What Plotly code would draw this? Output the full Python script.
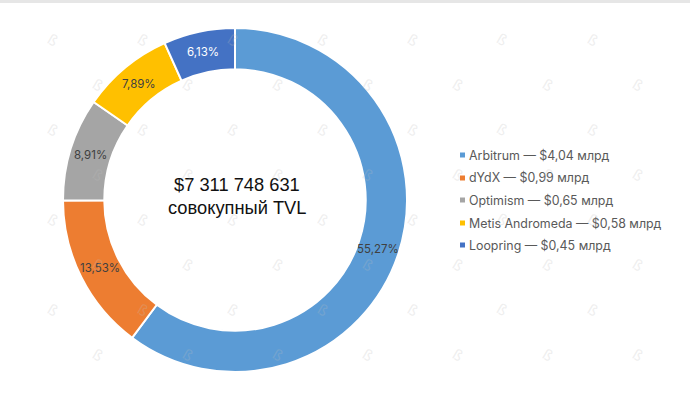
import math

import plotly.graph_objects as go

W, H = 690, 404

names = ["Arbitrum", "dYdX", "Optimism", "Metis Andromeda", "Loopring"]
tvl_bln = [4.04, 0.99, 0.65, 0.58, 0.45]
tvl_labels = ["$4,04 млрд", "$0,99 млрд", "$0,65 млрд", "$0,58 млрд", "$0,45 млрд"]
pct_labels = ["55,27%", "13,53%", "8,91%", "7,89%", "6,13%"]
colors = ["#5B9BD5", "#ED7D31", "#A5A5A5", "#FFC000", "#4472C4"]
label_colors = ["#404040", "#404040", "#404040", "#404040", "#FFFFFF"]
legend_y = [155, 178, 200, 223, 245]


def px(x):
    return x / W


def py(y):
    return 1 - y / H


fig = go.Figure(go.Pie(
    labels=names,
    values=tvl_bln,
    textinfo="none",
    hole=0.76,
    sort=False,
    direction="clockwise",
    rotation=0,
    marker=dict(colors=colors, line=dict(color="white", width=2)),
    domain=dict(x=[px(63), px(407)], y=[py(372), py(28)]),
    showlegend=False,
))

# grey strip at the top of the page
fig.add_shape(type="rect", xref="paper", yref="paper", x0=0, x1=1, y0=py(3), y1=1,
              fillcolor="#E6E6E6", line_width=0, layer="below")

# percent labels sit mid-slice, except Arbitrum which is pulled up to the right side
total = sum(tvl_bln)
start = 0
for i, (val, label, color) in enumerate(zip(tvl_bln, pct_labels, label_colors)):
    angle = (start + val / 2) / total * 2 * math.pi
    start += val
    if i == 0:
        angle = math.radians(109)
    fig.add_annotation(text=label, xref="paper", yref="paper",
                       x=px(235 + 151 * math.sin(angle)), y=py(200 - 151 * math.cos(angle)),
                       xanchor="center", yanchor="middle",
                       showarrow=False, font=dict(family="Inter", size=11.5, color=color))

# legend drawn by hand to get the row spacing of the picture
for name, tvl, color, y in zip(names, tvl_labels, colors, legend_y):
    fig.add_shape(type="rect", xref="paper", yref="paper",
                  x0=px(460), x1=px(465), y0=py(y + 2.5), y1=py(y - 2.5),
                  fillcolor=color, line_width=0)
    fig.add_annotation(text=f"{name} — {tvl}", xref="paper", yref="paper",
                       x=px(466.5), y=py(y), xanchor="left", yanchor="middle", showarrow=False,
                       font=dict(family="Inter", size=12.4, color="#595959"))

# centre caption
fig.add_annotation(text="$7 311 748 631", xref="paper", yref="paper", x=px(237), y=py(185),
                   xanchor="center", yanchor="middle",
                   showarrow=False, font=dict(family="Liberation Sans", size=18.3, color="#111111"))
fig.add_annotation(text="совокупный TVL", xref="paper", yref="paper", x=px(237), y=py(207),
                   xanchor="center", yanchor="middle",
                   showarrow=False, font=dict(family="Liberation Sans", size=18.3, color="#111111"))

# faint watermark, staggered grid, kept clear of the page edges
for row in range(8):
    y = 40 + 45 * row
    x = 52 if row % 2 == 0 else 97
    while x < W - 12:
        fig.add_annotation(text="ß", xref="paper", yref="paper", x=px(x), y=py(y), textangle=30,
                           xanchor="center", yanchor="middle", showarrow=False,
                           font=dict(family="DejaVu Sans", size=15, color="rgba(190,190,190,0.25)"))
        x += 90

fig.update_layout(
    width=W,
    height=H,
    margin=dict(l=0, r=0, t=0, b=0),
    paper_bgcolor="white",
    plot_bgcolor="white",
)

fig.write_html("out.html", config={"displayModeBar": False},
               post_script="document.body.style.margin='0';")
